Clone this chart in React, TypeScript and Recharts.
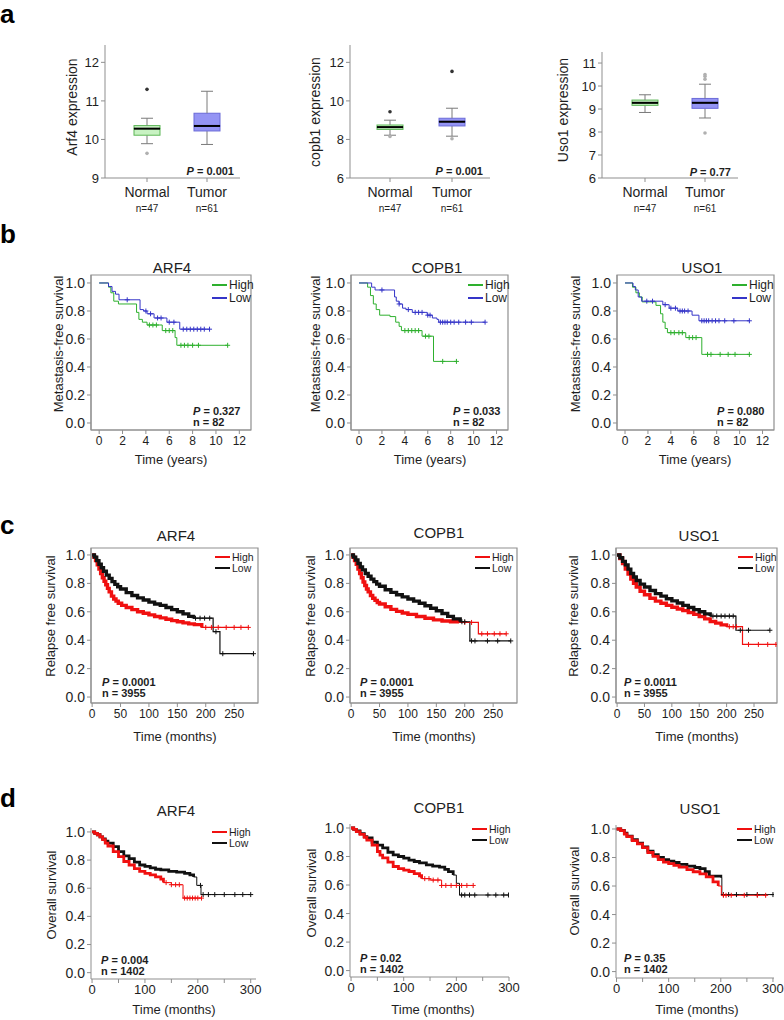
import { Bar, ComposedChart, Line, ReferenceArea, Scatter, XAxis, YAxis } from 'recharts';

type Step = [number, number];
type Five = [number, number, number, number, number];
type Pt = [string, number];

// ---------- panel a: expression box plots (min, q1, median, q3, max)
const groups = ['Normal', 'Tumor'];
const groupN = ['n=47', 'n=61'];
const aLabels = ['Arf4 expression', 'copb1 expression', 'Uso1 expression'];
const aP = ['0.001', '0.001', '0.77'];

const arf4Box: Five[] = [[9.89, 10.11, 10.28, 10.36, 10.55], [9.87, 10.22, 10.35, 10.68, 11.25]];
const arf4Far: Pt[] = [['Normal', 11.3]];
const arf4Out: Pt[] = [['Normal', 9.64]];
const arf4Ticks = [9, 10, 11, 12];

const copb1Box: Five[] = [[8.22, 8.52, 8.64, 8.75, 9.0], [8.17, 8.7, 8.92, 9.1, 9.62]];
const copb1Far: Pt[] = [['Normal', 9.44], ['Tumor', 11.53]];
const copb1Out: Pt[] = [['Normal', 8.15], ['Tumor', 8.04]];
const copb1Ticks = [6, 8, 10, 12];

const uso1Box: Five[] = [[8.85, 9.16, 9.27, 9.39, 9.62], [8.61, 9.03, 9.27, 9.46, 10.08]];
const uso1Far: Pt[] = [];
const uso1Out: Pt[] = [['Tumor', 10.3], ['Tumor', 10.42], ['Tumor', 10.5], ['Tumor', 7.96]];
const uso1Ticks = [6, 7, 8, 9, 10, 11];

// ---------- survival panels
const genes = ['ARF4', 'COPB1', 'USO1'];
const legendNames = ['High', 'Low'];
const kmYTicks = [0, 0.2, 0.4, 0.6, 0.8, 1.0];

// b: metastasis-free survival (years)
const bXTicks = [0, 2, 4, 6, 8, 10, 12];
const bP = ['0.327', '0.033', '0.080'];
const bN = '82';

const bArf4High: Step[] = [[0, 1], [0.8, 0.97], [1.0, 0.93], [1.25, 0.87], [1.65, 0.85], [3.2, 0.79], [3.4, 0.74], [3.7, 0.72], [4.1, 0.7], [5.4, 0.66], [6.5, 0.61], [6.65, 0.555], [11.0, 0.555]];
const bArf4HighCens = [4.3, 4.6, 4.9, 5.7, 6.0, 6.3, 7.0, 7.3, 7.6, 8.0, 8.5, 11.0];
const bArf4Low: Step[] = [[0, 1], [0.8, 0.975], [1.1, 0.94], [1.4, 0.92], [1.7, 0.88], [3.5, 0.81], [3.8, 0.8], [4.1, 0.78], [4.7, 0.75], [5.8, 0.72], [6.9, 0.67], [9.45, 0.67]];
const bArf4LowCens = [2.4, 4.0, 4.4, 5.0, 5.3, 6.0, 6.4, 7.2, 7.5, 7.8, 8.1, 8.4, 8.7, 9.0, 9.45];

const bCopb1High: Step[] = [[0, 1], [0.75, 0.97], [1.0, 0.91], [1.25, 0.85], [1.5, 0.81], [1.8, 0.77], [2.7, 0.76], [3.2, 0.72], [3.5, 0.69], [3.7, 0.66], [5.5, 0.62], [6.5, 0.44], [8.5, 0.44]];
const bCopb1HighCens = [4.0, 4.3, 4.6, 4.9, 5.2, 5.8, 6.1, 7.3, 8.5];
const bCopb1Low: Step[] = [[0, 1], [1.1, 0.97], [1.4, 0.95], [3.1, 0.9], [3.25, 0.87], [3.5, 0.85], [3.8, 0.82], [4.1, 0.81], [4.65, 0.79], [5.95, 0.77], [6.4, 0.75], [6.8, 0.74], [6.95, 0.72], [11.0, 0.72]];
const bCopb1LowCens = [2.0, 3.5, 4.3, 4.9, 5.2, 5.5, 6.0, 6.2, 7.1, 7.3, 7.5, 7.7, 8.0, 8.3, 8.7, 9.3, 9.8, 11.0];

const bUso1High: Step[] = [[0, 1], [0.65, 0.97], [0.95, 0.93], [1.25, 0.9], [1.5, 0.865], [2.7, 0.84], [3.1, 0.78], [3.3, 0.72], [3.5, 0.675], [3.7, 0.645], [5.3, 0.61], [6.7, 0.49], [10.85, 0.49]];
const bUso1HighCens = [4.0, 4.3, 4.7, 5.0, 5.6, 5.9, 6.2, 7.2, 7.5, 8.3, 9.0, 9.6, 10.85];
const bUso1Low: Step[] = [[0, 1], [0.7, 0.975], [0.9, 0.95], [1.15, 0.9], [1.45, 0.87], [3.3, 0.845], [3.85, 0.82], [4.6, 0.8], [5.85, 0.77], [6.45, 0.73], [10.85, 0.73]];
const bUso1LowCens = [1.9, 2.4, 3.5, 4.0, 4.4, 4.8, 5.0, 5.2, 5.5, 6.7, 6.9, 7.1, 7.3, 7.6, 7.9, 8.2, 8.7, 9.5, 10.85];

// c: relapse free survival (months)
const cXTicks = [0, 50, 100, 150, 200, 250];
const cP = ['0.0001', '0.0001', '0.0011'];
const cN = '3955';

const cArf4High: Step[] = [[0, 1], [3, 0.985], [6, 0.96], [9, 0.93], [12, 0.9], [15, 0.87], [18, 0.84], [21, 0.815], [24, 0.79], [27, 0.765], [30, 0.74], [34, 0.71], [38, 0.69], [42, 0.675], [46, 0.66], [52, 0.645], [60, 0.63], [70, 0.615], [80, 0.6], [90, 0.59], [100, 0.578], [110, 0.567], [120, 0.557], [130, 0.548], [140, 0.538], [150, 0.53], [160, 0.522], [170, 0.515], [180, 0.51], [193, 0.49], [275, 0.49]];
const cArf4HighCens = [200, 210, 222, 236, 250, 262, 275];
const cArf4Low: Step[] = [[0, 1], [4, 0.985], [8, 0.96], [12, 0.935], [16, 0.91], [20, 0.885], [25, 0.858], [30, 0.835], [35, 0.812], [40, 0.793], [45, 0.776], [50, 0.76], [60, 0.735], [70, 0.715], [80, 0.698], [90, 0.683], [100, 0.668], [110, 0.655], [120, 0.645], [130, 0.63], [140, 0.615], [150, 0.6], [160, 0.585], [170, 0.568], [178, 0.555], [213, 0.46], [225, 0.305], [284, 0.305]];
const cArf4LowCens = [182, 190, 198, 207, 218, 230, 284];

const cCopb1High: Step[] = [[0, 1], [3, 0.985], [6, 0.96], [9, 0.935], [12, 0.9], [15, 0.87], [18, 0.84], [21, 0.81], [24, 0.785], [27, 0.76], [30, 0.74], [34, 0.715], [38, 0.695], [42, 0.68], [46, 0.665], [50, 0.655], [60, 0.635], [70, 0.617], [80, 0.603], [90, 0.592], [100, 0.582], [115, 0.567], [130, 0.555], [145, 0.543], [160, 0.535], [175, 0.53], [190, 0.525], [224, 0.445], [273, 0.445]];
const cCopb1HighCens = [200, 212, 230, 240, 252, 262, 273];
const cCopb1Low: Step[] = [[0, 1], [4, 0.985], [8, 0.965], [12, 0.94], [16, 0.915], [20, 0.895], [25, 0.87], [30, 0.85], [35, 0.83], [40, 0.812], [45, 0.795], [50, 0.78], [60, 0.755], [70, 0.737], [80, 0.72], [90, 0.705], [100, 0.69], [110, 0.675], [120, 0.66], [130, 0.643], [140, 0.625], [150, 0.607], [160, 0.588], [170, 0.568], [180, 0.55], [192, 0.53], [209, 0.395], [281, 0.395]];
const cCopb1LowCens = [195, 200, 212, 218, 240, 258, 281];

const cUso1High: Step[] = [[0, 1], [5, 0.975], [10, 0.94], [15, 0.9], [20, 0.865], [25, 0.83], [30, 0.8], [35, 0.775], [42, 0.745], [50, 0.72], [60, 0.695], [70, 0.675], [80, 0.66], [90, 0.645], [100, 0.632], [110, 0.62], [120, 0.608], [130, 0.595], [140, 0.582], [150, 0.567], [160, 0.55], [170, 0.532], [180, 0.52], [190, 0.508], [200, 0.495], [229, 0.37], [290, 0.37]];
const cUso1HighCens = [205, 212, 218, 240, 258, 275, 290];
const cUso1Low: Step[] = [[0, 1], [5, 0.98], [10, 0.955], [15, 0.93], [20, 0.9], [25, 0.87], [30, 0.845], [35, 0.82], [42, 0.795], [50, 0.775], [60, 0.75], [70, 0.728], [80, 0.71], [90, 0.692], [100, 0.677], [110, 0.662], [120, 0.645], [130, 0.63], [140, 0.615], [150, 0.6], [160, 0.585], [170, 0.57], [217, 0.47], [279, 0.47]];
const cUso1LowCens = [175, 182, 190, 197, 205, 212, 225, 240, 279];

// d: overall survival (months)
const dXTicks = [0, 50, 100, 150, 200, 250, 300];
const dP = ['0.004', '0.02', '0.35'];
const dN = '1402';

const dArf4High: Step[] = [[0, 1], [5, 0.99], [10, 0.98], [15, 0.965], [20, 0.945], [25, 0.92], [30, 0.9], [40, 0.86], [50, 0.825], [60, 0.79], [70, 0.765], [80, 0.74], [90, 0.72], [100, 0.705], [110, 0.695], [120, 0.68], [130, 0.665], [135, 0.64], [150, 0.625], [172, 0.53], [207, 0.53]];
const dArf4HighCens = [140, 150, 158, 165, 175, 180, 185, 190, 195, 200, 207];
const dArf4Low: Step[] = [[0, 1], [5, 0.99], [10, 0.98], [15, 0.965], [20, 0.95], [25, 0.935], [30, 0.92], [40, 0.895], [50, 0.86], [60, 0.83], [70, 0.81], [80, 0.785], [90, 0.765], [100, 0.755], [110, 0.745], [120, 0.735], [130, 0.73], [145, 0.72], [160, 0.715], [175, 0.705], [185, 0.695], [192, 0.68], [198, 0.62], [206, 0.555], [300, 0.555]];
const dArf4LowCens = [205, 210, 220, 232, 250, 270, 285, 300];

const dCopb1High: Step[] = [[0, 1], [5, 0.99], [10, 0.975], [17, 0.955], [25, 0.935], [30, 0.915], [40, 0.88], [50, 0.835], [55, 0.81], [60, 0.79], [70, 0.76], [80, 0.73], [90, 0.715], [100, 0.705], [110, 0.695], [120, 0.68], [130, 0.665], [134, 0.645], [150, 0.635], [172, 0.597], [232, 0.597]];
const dCopb1HighCens = [140, 148, 156, 165, 172, 180, 190, 200, 210, 220, 232];
const dCopb1Low: Step[] = [[0, 1], [5, 0.99], [10, 0.98], [17, 0.96], [25, 0.94], [30, 0.93], [40, 0.9], [50, 0.88], [60, 0.86], [70, 0.83], [80, 0.812], [90, 0.8], [100, 0.788], [110, 0.775], [120, 0.765], [130, 0.755], [143, 0.741], [155, 0.733], [168, 0.725], [178, 0.71], [185, 0.694], [194, 0.67], [200, 0.612], [206, 0.53], [299, 0.53]];
const dCopb1LowCens = [210, 216, 225, 235, 260, 275, 290, 299];

const dUso1High: Step[] = [[0, 1], [8, 0.988], [15, 0.965], [20, 0.946], [30, 0.918], [40, 0.895], [50, 0.87], [60, 0.835], [70, 0.808], [80, 0.785], [90, 0.768], [100, 0.757], [110, 0.745], [120, 0.733], [135, 0.715], [147, 0.7], [160, 0.685], [172, 0.664], [185, 0.629], [195, 0.6], [201, 0.535], [286, 0.535]];
const dUso1HighCens = [205, 210, 220, 245, 270, 286];
const dUso1Low: Step[] = [[0, 1], [8, 0.99], [15, 0.97], [20, 0.95], [30, 0.925], [40, 0.9], [50, 0.875], [60, 0.845], [70, 0.82], [80, 0.8], [90, 0.785], [100, 0.775], [110, 0.765], [120, 0.752], [135, 0.74], [150, 0.73], [160, 0.722], [170, 0.7], [178, 0.67], [200, 0.66], [202, 0.54], [300, 0.54]];
const dUso1LowCens = [205, 215, 230, 250, 270, 300];

// ---------- styling
const FONT = '"Liberation Sans", Arial, Helvetica, sans-serif';
const AXIS = '#8f8f8f';
const INK = '#1e1e1e';
const GREEN = '#2eb02e';
const BLUE = '#3535c8';
const RED = '#f01010';
const BLACK = '#111111';

interface Plot { x: number; y: number; w: number; h: number }

const BOX_FILL: Record<string, string> = { Normal: '#c8f2c2', Tumor: '#9494f4' };
const BOX_EDGE: Record<string, string> = { Normal: '#5db657', Tumor: '#6b6bd8' };

function LowWhisker(p: any) {
    const { x, y, width, height } = p;
    const cx = x + width / 2;
    return (
        <g stroke="#7a7a7a" strokeWidth={1}>
            <line x1={cx} x2={cx} y1={y} y2={y + height} />
            <line x1={cx - 6} x2={cx + 6} y1={y + height} y2={y + height} />
        </g>
    );
}

function HighWhisker(p: any) {
    const { x, y, width, height } = p;
    const cx = x + width / 2;
    return (
        <g stroke="#7a7a7a" strokeWidth={1}>
            <line x1={cx} x2={cx} y1={y} y2={y + height} />
            <line x1={cx - 6} x2={cx + 6} y1={y} y2={y} />
        </g>
    );
}

function LowBox(p: any) {
    const { x, y, width, height, payload } = p;
    return <rect x={x} y={y} width={width} height={height} fill={BOX_FILL[payload.name]} stroke={BOX_EDGE[payload.name]} />;
}

function HighBox(p: any) {
    const { x, y, width, height, payload } = p;
    return (
        <g>
            <rect x={x} y={y} width={width} height={height} fill={BOX_FILL[payload.name]} stroke={BOX_EDGE[payload.name]} />
            <line x1={x} x2={x + width} y1={y + height} y2={y + height} stroke="#000" strokeWidth={2} />
        </g>
    );
}

function CatTick(p: any) {
    const { x, y, payload } = p;
    const i = groups.indexOf(payload.value);
    return (
        <g fill={INK}>
            <text x={x} y={y + 13} textAnchor="middle" fontSize={14}>{payload.value}</text>
            <text x={x} y={y + 28} textAnchor="middle" fontSize={10}>{groupN[i]}</text>
        </g>
    );
}

function BoxPanel({ plot, domain, ticks, stats, far, out, padding }: {
    plot: Plot; domain: [number, number]; ticks: number[]; stats: Five[]; far: Pt[]; out: Pt[];
    padding: { left: number; right: number };
}) {
    const yw = 28;
    const xh = 40;
    const pad = 8;
    const rows = groups.map((name, i) => {
        const [mn, q1, md, q3, mx] = stats[i];
        return { name, base: mn, lw: q1 - mn, lb: md - q1, hb: q3 - md, hw: mx - q3 };
    });
    return (
        <div style={{ position: 'absolute', left: plot.x - yw - pad, top: plot.y - pad }}>
            <ComposedChart
                width={yw + 2 * pad + plot.w}
                height={pad + plot.h + xh}
                data={rows}
                barSize={26}
                margin={{ top: pad, right: pad, bottom: 0, left: pad }}
            >
                <XAxis
                    dataKey="name"
                    type="category"
                    allowDuplicatedCategory={false}
                    padding={padding}
                    height={xh}
                    tickSize={4}
                    tickMargin={2}
                    axisLine={{ stroke: AXIS }}
                    tickLine={{ stroke: AXIS }}
                    tick={<CatTick />}
                    interval={0}
                />
                <YAxis
                    type="number"
                    domain={domain}
                    ticks={ticks}
                    allowDataOverflow
                    width={yw}
                    tickSize={4}
                    tickMargin={2}
                    axisLine={{ stroke: AXIS }}
                    tickLine={{ stroke: AXIS }}
                    tick={{ fontSize: 13, fill: INK }}
                    interval={0}
                />
                <Bar dataKey="base" stackId="s" fill="none" isAnimationActive={false} />
                <Bar dataKey="lw" stackId="s" shape={<LowWhisker />} isAnimationActive={false} />
                <Bar dataKey="lb" stackId="s" shape={<LowBox />} isAnimationActive={false} />
                <Bar dataKey="hb" stackId="s" shape={<HighBox />} isAnimationActive={false} />
                <Bar dataKey="hw" stackId="s" shape={<HighWhisker />} isAnimationActive={false} />
                <Scatter
                    data={far.map(([name, v]) => ({ name, v }))}
                    dataKey="v"
                    isAnimationActive={false}
                    shape={(p: any) => <circle cx={p.cx} cy={p.cy} r={1.8} fill="#333" />}
                />
                <Scatter
                    data={out.map(([name, v]) => ({ name, v }))}
                    dataKey="v"
                    isAnimationActive={false}
                    shape={(p: any) => <circle cx={p.cx} cy={p.cy} r={1.8} fill="#b0b0b0" />}
                />
            </ComposedChart>
        </div>
    );
}

interface Curve { steps: Step[]; censor: number[]; color: string; dense?: number }

function survivalAt(steps: Step[], t: number) {
    let s = steps[0][1];
    for (const [ti, si] of steps) {
        if (ti <= t) s = si;
    }
    return s;
}

function plusShape(color: string, size: number) {
    return (p: any) => (
        <path
            d={`M${p.cx - size},${p.cy}h${2 * size}M${p.cx},${p.cy - size}v${2 * size}`}
            stroke={color}
            strokeWidth={1}
            fill="none"
        />
    );
}

function KMPanel({ plot, xDomain, yDomain, xTicks, xFmt, xFont, curves, framed, thin, thick }: {
    plot: Plot; xDomain: [number, number]; yDomain: [number, number]; xTicks: number[];
    xFmt: (v: number) => string; xFont: number; curves: Curve[]; framed: boolean; thin: number; thick: number;
}) {
    const yw = 30;
    const xh = 22;
    const pad = 8;
    const padR = 16;
    return (
        <div style={{ position: 'absolute', left: plot.x - yw - pad, top: plot.y - pad }}>
            <ComposedChart
                width={yw + pad + padR + plot.w}
                height={pad + plot.h + xh}
                margin={{ top: pad, right: padR, bottom: 0, left: pad }}
            >
                <XAxis
                    type="number"
                    dataKey="t"
                    domain={xDomain}
                    ticks={xTicks}
                    tickFormatter={xFmt}
                    allowDataOverflow
                    height={xh}
                    tickSize={4}
                    tickMargin={2}
                    axisLine={{ stroke: AXIS }}
                    tickLine={{ stroke: AXIS }}
                    tick={{ fontSize: xFont, fill: INK }}
                    interval={0}
                />
                <YAxis
                    type="number"
                    domain={yDomain}
                    ticks={kmYTicks}
                    tickFormatter={(v: number) => v.toFixed(1)}
                    allowDataOverflow
                    width={yw}
                    tickSize={4}
                    tickMargin={2}
                    axisLine={{ stroke: AXIS }}
                    tickLine={{ stroke: AXIS }}
                    tick={{ fontSize: 14, fill: INK }}
                    interval={0}
                />
                {framed && (
                    <ReferenceArea
                        x1={xDomain[0]}
                        x2={xDomain[1]}
                        y1={yDomain[0]}
                        y2={yDomain[1]}
                        fill="none"
                        stroke={AXIS}
                        strokeWidth={1.2}
                    />
                )}
                {curves.flatMap((c, i) => {
                    const pts = c.steps.map(([t, s]) => ({ t, s }));
                    const items = [
                        <Line
                            key={`l${i}`}
                            data={pts}
                            dataKey="s"
                            type="stepAfter"
                            stroke={c.color}
                            strokeWidth={thin}
                            dot={false}
                            isAnimationActive={false}
                        />,
                    ];
                    if (c.dense !== undefined) {
                        items.push(
                            <Line
                                key={`d${i}`}
                                data={pts.filter((p) => p.t <= (c.dense as number))}
                                dataKey="s"
                                type="stepAfter"
                                stroke={c.color}
                                strokeWidth={thick}
                                dot={false}
                                isAnimationActive={false}
                            />,
                        );
                    }
                    items.push(
                        <Scatter
                            key={`c${i}`}
                            data={c.censor.map((t) => ({ t, s: survivalAt(c.steps, t) }))}
                            dataKey="s"
                            shape={plusShape(c.color, 2.5)}
                            isAnimationActive={false}
                        />,
                    );
                    return items;
                })}
            </ComposedChart>
        </div>
    );
}

function Legend2({ x, y, colors, size, gap }: { x: number; y: number; colors: string[]; size: number; gap: number }) {
    return (
        <g>
            {legendNames.map((name, i) => (
                <g key={name}>
                    <line x1={x} x2={x + 15} y1={y + i * gap} y2={y + i * gap} stroke={colors[i]} strokeWidth={2} />
                    <text x={x + 17} y={y + i * gap + 3.5} fontSize={size} fill={INK}>{name}</text>
                </g>
            ))}
        </g>
    );
}

function PText({ x, y, p, n, anchor = 'start' }: { x: number; y: number; p: string; n?: string; anchor?: 'start' | 'end' }) {
    return (
        <g fontWeight="bold" fontSize={11} fill={INK}>
            <text x={x} y={y} textAnchor={anchor}>
                <tspan fontStyle="italic">P</tspan>
                {` = ${p}`}
            </text>
            {n && <text x={x} y={y + 11} textAnchor={anchor}>{`n = ${n}`}</text>}
        </g>
    );
}

function VText({ x, y, text, size }: { x: number; y: number; text: string; size: number }) {
    return (
        <text transform={`translate(${x},${y}) rotate(-90)`} textAnchor="middle" fontSize={size} fill={INK}>
            {text}
        </text>
    );
}

const yearFmt = (v: number) => String(v);
const monthFmt = (v: number) => String(v);
const hundredFmt = (v: number) => (v % 100 === 0 ? String(v) : '');

export default function App() {
    const aPlots: Plot[] = [
        { x: 105, y: 45, w: 135, h: 133 },
        { x: 350, y: 45, w: 140, h: 133 },
        { x: 602, y: 52, w: 136, h: 126 },
    ];
    const bPlots: Plot[] = [
        { x: 91, y: 275, w: 160, h: 155 },
        { x: 351, y: 275, w: 157, h: 155 },
        { x: 617, y: 275, w: 157, h: 155 },
    ];
    const cPlots: Plot[] = [
        { x: 91, y: 548, w: 167, h: 155 },
        { x: 350, y: 548, w: 167, h: 155 },
        { x: 616, y: 548, w: 161, h: 155 },
    ];
    const dPlots: Plot[] = [
        { x: 91, y: 828, w: 165, h: 151 },
        { x: 350, y: 824, w: 159, h: 153 },
        { x: 616, y: 825, w: 158, h: 153 },
    ];
    const dDomains: [number, number][] = [[-2, 310], [-2, 300], [-1, 302]];

    const bCurves: Curve[][] = [
        [
            { steps: bArf4High, censor: bArf4HighCens, color: GREEN },
            { steps: bArf4Low, censor: bArf4LowCens, color: BLUE },
        ],
        [
            { steps: bCopb1High, censor: bCopb1HighCens, color: GREEN },
            { steps: bCopb1Low, censor: bCopb1LowCens, color: BLUE },
        ],
        [
            { steps: bUso1High, censor: bUso1HighCens, color: GREEN },
            { steps: bUso1Low, censor: bUso1LowCens, color: BLUE },
        ],
    ];
    const cCurves: Curve[][] = [
        [
            { steps: cArf4High, censor: cArf4HighCens, color: RED, dense: 195 },
            { steps: cArf4Low, censor: cArf4LowCens, color: BLACK, dense: 180 },
        ],
        [
            { steps: cCopb1High, censor: cCopb1HighCens, color: RED, dense: 195 },
            { steps: cCopb1Low, censor: cCopb1LowCens, color: BLACK, dense: 195 },
        ],
        [
            { steps: cUso1High, censor: cUso1HighCens, color: RED, dense: 205 },
            { steps: cUso1Low, censor: cUso1LowCens, color: BLACK, dense: 172 },
        ],
    ];
    const dCurves: Curve[][] = [
        [
            { steps: dArf4Low, censor: dArf4LowCens, color: BLACK, dense: 195 },
            { steps: dArf4High, censor: dArf4HighCens, color: RED, dense: 135 },
        ],
        [
            { steps: dCopb1Low, censor: dCopb1LowCens, color: BLACK, dense: 198 },
            { steps: dCopb1High, censor: dCopb1HighCens, color: RED, dense: 134 },
        ],
        [
            { steps: dUso1Low, censor: dUso1LowCens, color: BLACK, dense: 200 },
            { steps: dUso1High, censor: dUso1HighCens, color: RED, dense: 200 },
        ],
    ];

    return (
        <div style={{ position: 'relative', width: 784, height: 1020, fontFamily: FONT, background: '#fff', overflow: 'hidden' }}>
            <style>{'body{margin:0}'}</style>

            <BoxPanel plot={aPlots[0]} domain={[9, 12.45]} ticks={arf4Ticks} stats={arf4Box} far={arf4Far} out={arf4Out} padding={{ left: 12, right: 3 }} />
            <BoxPanel plot={aPlots[1]} domain={[6, 12.9]} ticks={copb1Ticks} stats={copb1Box} far={copb1Far} out={copb1Out} padding={{ left: 9, right: 7 }} />
            <BoxPanel plot={aPlots[2]} domain={[6, 11.48]} ticks={uso1Ticks} stats={uso1Box} far={uso1Far} out={uso1Out} padding={{ left: 13, right: 3 }} />

            {bPlots.map((plot, i) => (
                <KMPanel key={`b${i}`} plot={plot} xDomain={[-0.7, 13]} yDomain={[-0.05, 1.057]} xTicks={bXTicks} xFmt={yearFmt} xFont={12} curves={bCurves[i]} framed thin={1} thick={1} />
            ))}
            {cPlots.map((plot, i) => (
                <KMPanel key={`c${i}`} plot={plot} xDomain={[-2, 292]} yDomain={[-0.042, 1.049]} xTicks={cXTicks} xFmt={monthFmt} xFont={12} curves={cCurves[i]} framed thin={1.2} thick={3.4} />
            ))}
            {dPlots.map((plot, i) => (
                <KMPanel key={`d${i}`} plot={plot} xDomain={dDomains[i]} yDomain={[-0.045, 1.028]} xTicks={dXTicks} xFmt={hundredFmt} xFont={13} curves={dCurves[i]} framed={false} thin={1} thick={2.8} />
            ))}

            <svg width={784} height={1020} style={{ position: 'absolute', left: 0, top: 0, pointerEvents: 'none', fontFamily: FONT }}>
                {/* panel letters */}
                <g fontSize={26} fontWeight="bold" fill="#000">
                    <text x={0} y={23}>a</text>
                    <text x={0} y={243}>b</text>
                    <text x={0} y={534}>c</text>
                    <text x={0} y={807}>d</text>
                </g>

                {/* a */}
                <VText x={77} y={107} text={aLabels[0]} size={14} />
                <VText x={320} y={112} text={aLabels[1]} size={14} />
                <VText x={568} y={110} text={aLabels[2]} size={14} />
                <PText x={234} y={175} p={aP[0]} anchor="end" />
                <PText x={483} y={175} p={aP[1]} anchor="end" />
                <PText x={731} y={176} p={aP[2]} anchor="end" />

                {/* b */}
                {[172, 437, 702].map((x, i) => (
                    <text key={`bt${i}`} x={x} y={273} textAnchor="middle" fontSize={15} fill={INK}>{genes[i]}</text>
                ))}
                {[63, 320, 580].map((x, i) => (
                    <VText key={`by${i}`} x={x} y={344} text="Metastasis-free survival" size={13} />
                ))}
                {[212, 468, 732].map((x, i) => (
                    <Legend2 key={`bl${i}`} x={x} y={285} colors={[GREEN, BLUE]} size={12} gap={13} />
                ))}
                {[193, 453, 717].map((x, i) => (
                    <PText key={`bp${i}`} x={x} y={415} p={bP[i]} n={bN} />
                ))}
                {[171, 430, 695].map((x, i) => (
                    <text key={`bx${i}`} x={x} y={464} textAnchor="middle" fontSize={13} fill={INK}>Time (years)</text>
                ))}

                {/* c */}
                {[176, 439, 699].map((x, i) => (
                    <text key={`ct${i}`} x={x} y={[541, 538, 541][i]} textAnchor="middle" fontSize={15} fill={INK}>{genes[i]}</text>
                ))}
                {[55, 315, 578].map((x, i) => (
                    <VText key={`cy${i}`} x={x} y={616} text="Relapse free survival" size={13} />
                ))}
                {[215, 475, 738].map((x, i) => (
                    <Legend2 key={`cl${i}`} x={x} y={557} colors={[RED, BLACK]} size={10.5} gap={11} />
                ))}
                {[102, 360, 624].map((x, i) => (
                    <PText key={`cp${i}`} x={x} y={686} p={cP[i]} n={cN} />
                ))}
                {[175, 434, 697].map((x, i) => (
                    <text key={`cx${i}`} x={x} y={741} textAnchor="middle" fontSize={13} fill={INK}>Time (months)</text>
                ))}

                {/* d */}
                {[176, 439, 700].map((x, i) => (
                    <text key={`dt${i}`} x={x} y={[816, 813, 814][i]} textAnchor="middle" fontSize={15} fill={INK}>{genes[i]}</text>
                ))}
                {[56, 316, 579].map((x, i) => (
                    <VText key={`dy${i}`} x={x} y={[895, 893, 891][i]} text="Overall survival" size={13} />
                ))}
                {[212, 472, 737].map((x, i) => (
                    <Legend2 key={`dl${i}`} x={x} y={[832, 829, 829][i]} colors={[RED, BLACK]} size={10.5} gap={11} />
                ))}
                {[101, 360, 624].map((x, i) => (
                    <PText key={`dp${i}`} x={x} y={[964, 962, 962][i]} p={dP[i]} n={dN} />
                ))}
                {[174, 433, 697].map((x, i) => (
                    <text key={`dx${i}`} x={x} y={1014} textAnchor="middle" fontSize={13} fill={INK}>Time (months)</text>
                ))}
            </svg>
        </div>
    );
}
